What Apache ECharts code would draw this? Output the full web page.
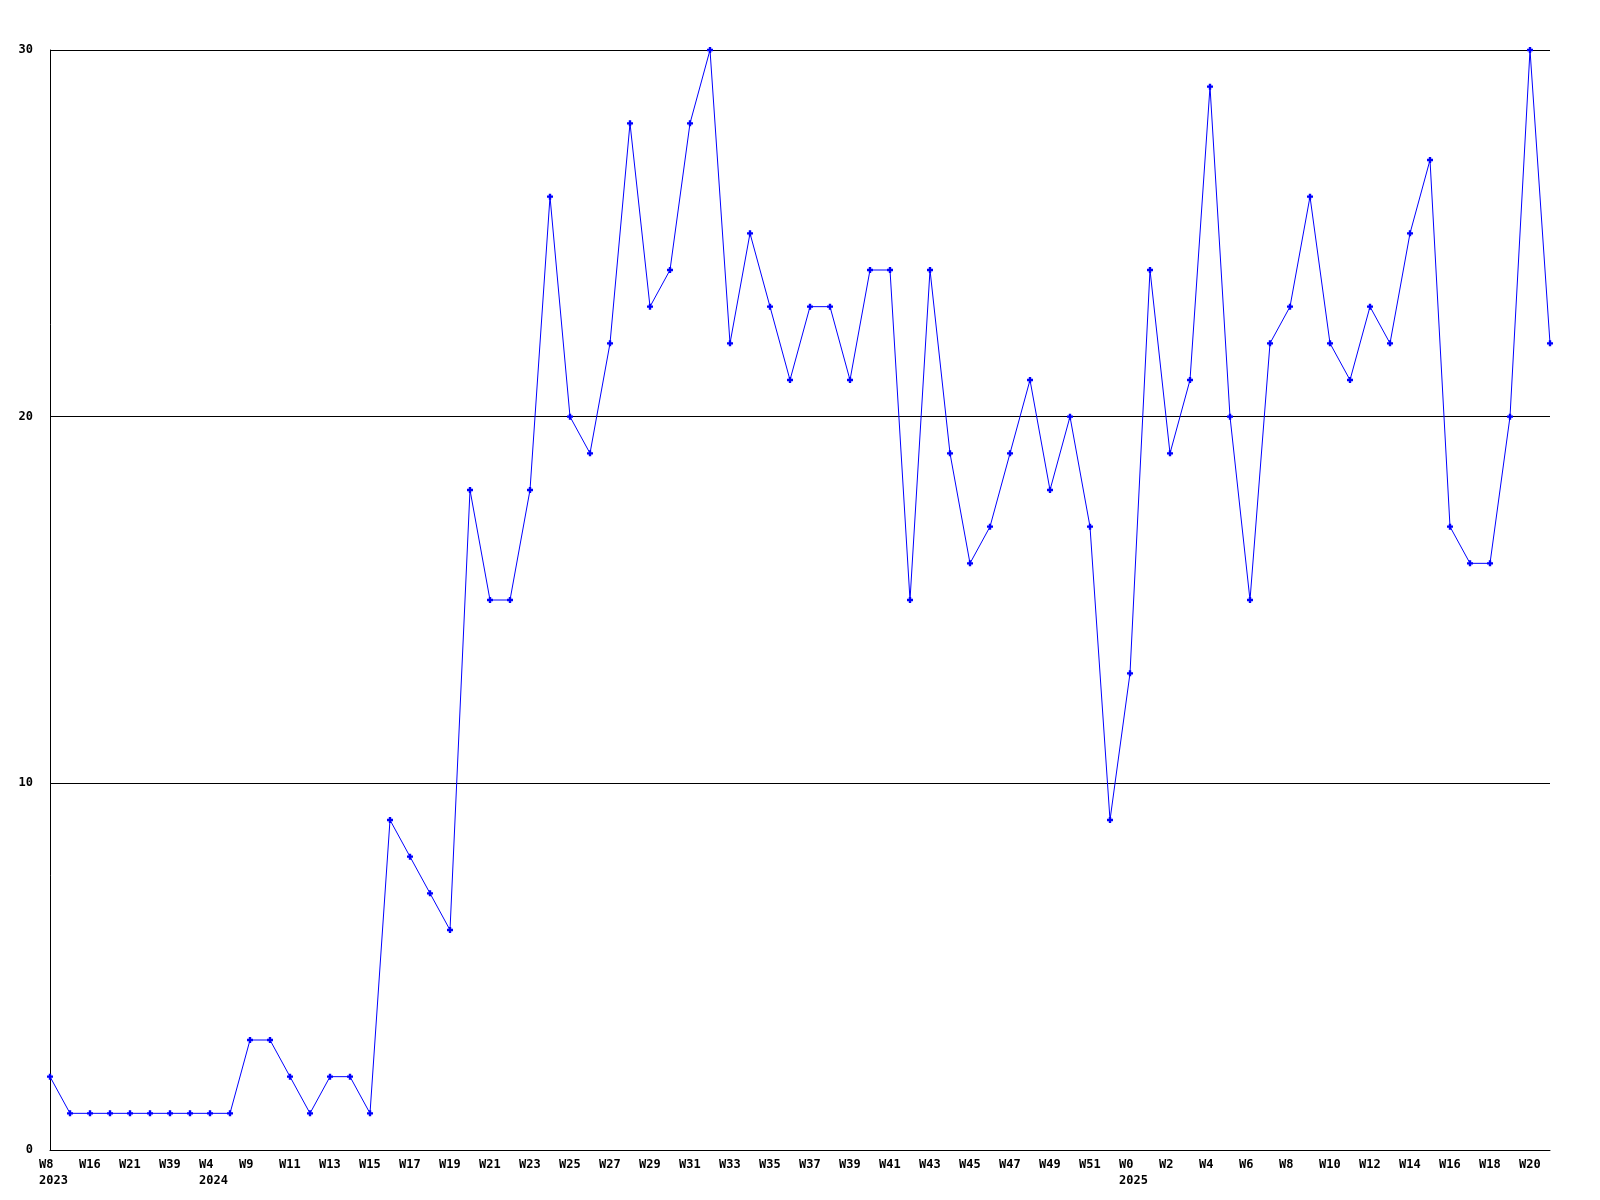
<!DOCTYPE html>
<html>
<head>
<meta charset="utf-8">
<script src="https://cdn.jsdelivr.net/npm/echarts@6/dist/echarts.min.js"></script>
<style>html,body{margin:0;padding:0;background:#fff}#c{width:1600px;height:1200px}</style>
</head>
<body>
<div id="c"></div>
<script>
const weeks = [
  'W8\n2023','W14','W16','W18','W21','W30','W39','W48',
  'W4\n2024','W7','W9','W10','W11','W12','W13','W14','W15','W16','W17','W18','W19','W20',
  'W21','W22','W23','W24','W25','W26','W27','W28','W29','W30','W31','W32','W33','W34',
  'W35','W36','W37','W38','W39','W40','W41','W42','W43','W44','W45','W46','W47','W48',
  'W49','W50','W51','W52',
  'W0\n2025','W1','W2','W3','W4','W5','W6','W7','W8','W9','W10','W11','W12','W13',
  'W14','W15','W16','W17','W18','W19','W20','W21'
];
const counts = [
  2,1,1,1,1,1,1,1,1,1,3,3,2,1,2,2,1,9,8,7,6,18,15,15,18,26,20,19,22,28,23,24,28,30,
  22,25,23,21,23,23,21,24,24,15,24,19,16,17,19,21,18,20,17,9,13,24,19,21,29,20,15,
  22,23,26,22,21,23,22,25,27,17,16,16,20,30,22
];
const yTicks = [0, 10, 20, 30];

const chart = echarts.init(document.getElementById('c'));
const font = {fontFamily: 'DejaVu Sans Mono', fontWeight: 'bold', fontSize: 12, color: '#000'};
chart.setOption({
  animation: false,
  backgroundColor: '#fff',
  grid: {left: 50, right: 50, top: 50, bottom: 50, containLabel: false},
  xAxis: {
    type: 'category',
    data: weeks,
    boundaryGap: false,
    axisLine: {show: true, lineStyle: {color: '#000', width: 1}},
    axisTick: {show: false},
    splitLine: {show: false},
    axisLabel: Object.assign({}, font, {interval: 1, margin: 7, align: 'left', padding: [0, 0, 0, -11], lineHeight: 16})
  },
  yAxis: {
    type: 'value',
    min: yTicks[0],
    max: yTicks[yTicks.length - 1],
    interval: 10,
    axisLine: {show: true, lineStyle: {color: '#000', width: 1}},
    axisTick: {show: false},
    splitLine: {show: true, lineStyle: {color: '#000', width: 1}},
    axisLabel: Object.assign({}, font, {margin: 17, padding: [3, 0, 0, 0]})
  },
  series: [{
    type: 'line',
    data: counts,
    symbol: 'path://M1.5,0H3.5V1.5H5V3.5H3.5V5H1.5V3.5H0V1.5H1.5Z',
    symbolSize: 6,
    showSymbol: true,
    lineStyle: {color: '#0000ff', width: 1},
    itemStyle: {color: '#0000ff'}
  }]
});
</script>
</body>
</html>
